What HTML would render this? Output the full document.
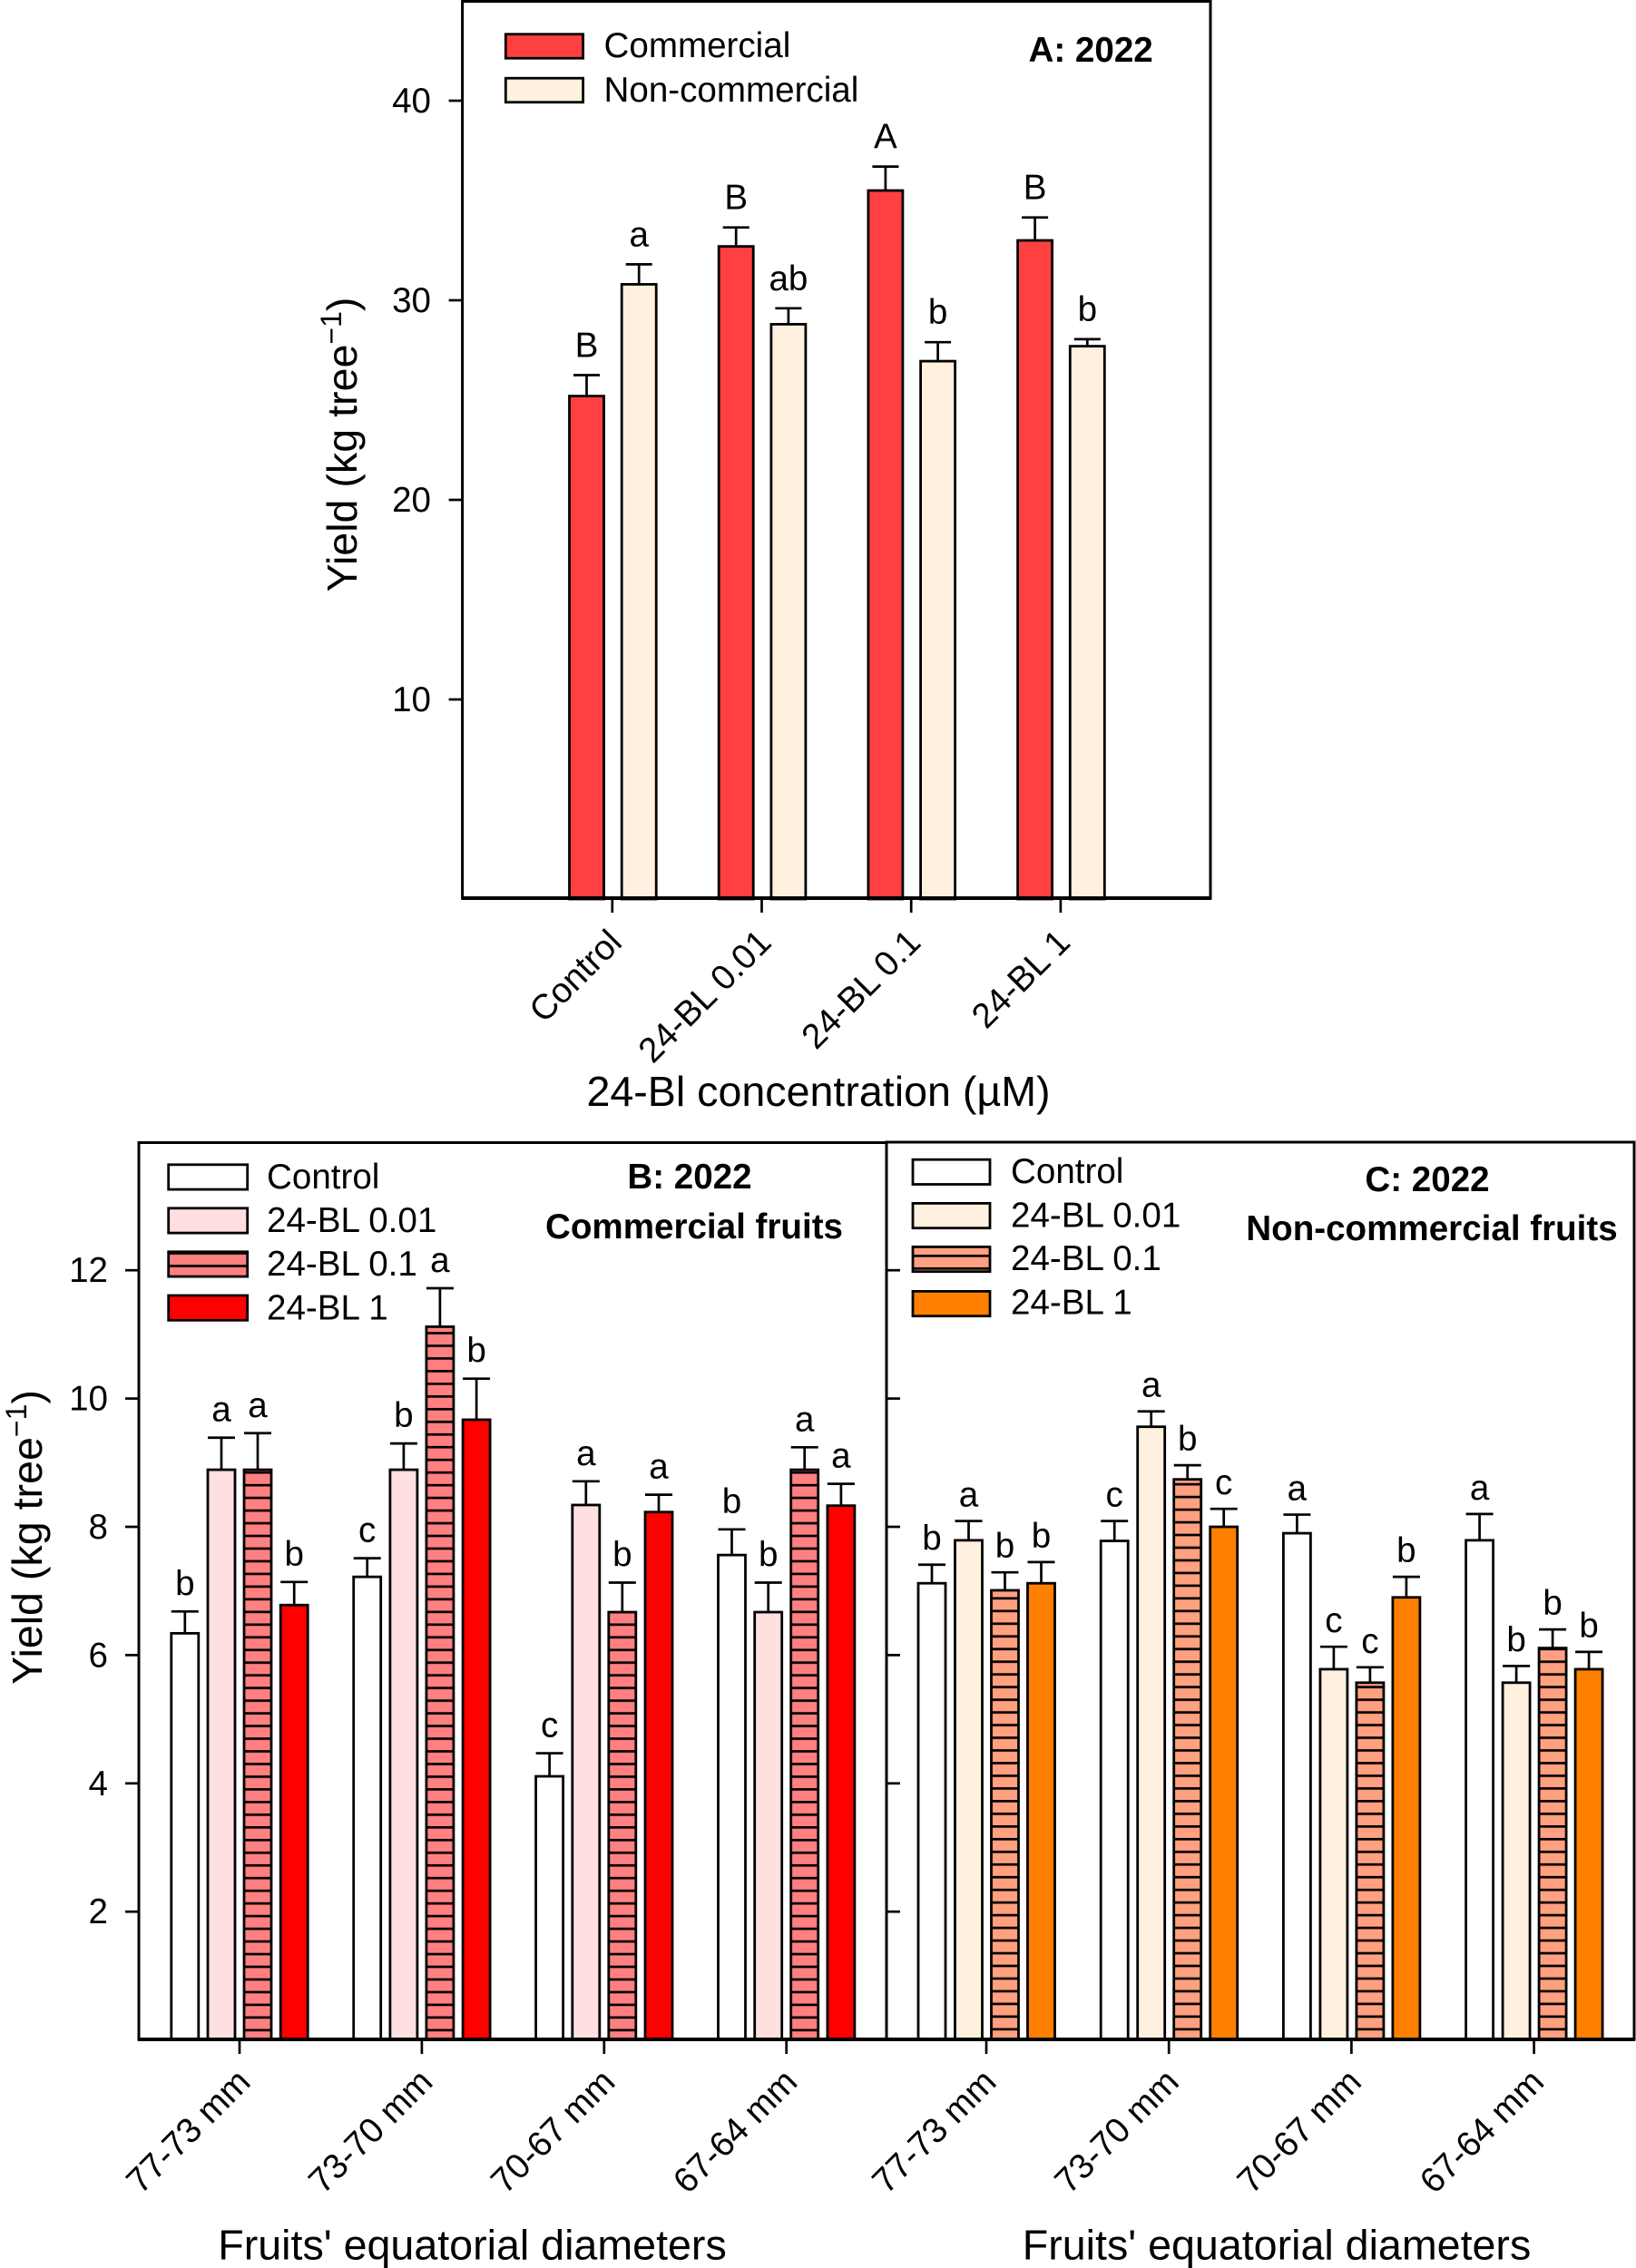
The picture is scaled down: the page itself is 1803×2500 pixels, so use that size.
<!DOCTYPE html>
<html lang="en">
<head>
<meta charset="utf-8">
<title>Yield by 24-BL concentration and fruit diameter</title>
<style>
  html, body { margin: 0; padding: 0; background: #fff; }
  svg { display: block; }
  text { font-family: "Liberation Sans", Arial, sans-serif; fill: #000; }
  .t38 { font-size: 38.6px; }
  .t46 { font-size: 46.6px; }
  .b38 { font-size: 38.6px; font-weight: bold; }
</style>
</head>
<body>
<svg id="figure" xmlns="http://www.w3.org/2000/svg" width="1803" height="2500" viewBox="0 0 1803 2500">
  <defs>
    <pattern id="hatch-b" patternUnits="userSpaceOnUse" x="0" y="2236.5" width="10" height="13.97">
      <rect width="10" height="13.97" fill="#ff8080"/><rect width="10" height="2.7" fill="#000"/>
    </pattern>
    <pattern id="hatch-c" patternUnits="userSpaceOnUse" x="0" y="2235.5" width="10" height="13.97">
      <rect width="10" height="13.97" fill="#ffa080"/><rect width="10" height="2.7" fill="#000"/>
    </pattern>
    <pattern id="hatch-b-legend" patternUnits="userSpaceOnUse" x="0" y="1380.2" width="10" height="13.97">
      <rect width="10" height="13.97" fill="#ff8080"/><rect width="10" height="2.7" fill="#000"/>
    </pattern>
    <pattern id="hatch-c-legend" patternUnits="userSpaceOnUse" x="0" y="1383" width="10" height="13.97">
      <rect width="10" height="13.97" fill="#ffa080"/><rect width="10" height="2.7" fill="#000"/>
    </pattern>
  </defs>

  <g id="panel-a"></g>
  <g id="panel-b"></g>
  <g id="panel-c"></g>

  <g>
    <rect x="557.3" y="37.7" width="85.3" height="26.5" fill="#ff4040" stroke="#000" stroke-width="2.8"/>
    <text class="t38" x="665.5" y="63">Commercial</text>
    <rect x="557.3" y="86.2" width="85.3" height="26.5" fill="#fff0e0" stroke="#000" stroke-width="2.8"/>
    <text class="t38" x="665.5" y="112">Non-commercial</text>
  </g>
  <text class="b38" x="1133.5" y="68">A: 2022</text>
  <text class="t46" text-anchor="middle" transform="translate(393 490) rotate(-90)">Yield (kg tree<tspan font-size="32" dy="-17">−1</tspan><tspan dy="17">)</tspan></text>
  <text class="t46" text-anchor="middle" x="902" y="1219">24-Bl concentration (µM)</text>

  <g>
    <rect x="185.7" y="1283.8" width="87" height="27.3" fill="#fff" stroke="#000" stroke-width="2.8"/>
    <text class="t38" x="294" y="1310">Control</text>
    <rect x="185.7" y="1331.8" width="87" height="27.3" fill="#ffe0e0" stroke="#000" stroke-width="2.8"/>
    <text class="t38" x="294" y="1358">24-BL 0.01</text>
    <rect x="185.7" y="1379.8" width="87" height="27.3" fill="url(#hatch-b-legend)" stroke="#000" stroke-width="2.8"/>
    <text class="t38" x="294" y="1406">24-BL 0.1</text>
    <rect x="185.7" y="1428" width="87" height="27.3" fill="#ff0000" stroke="#000" stroke-width="2.8"/>
    <text class="t38" x="294" y="1454.5">24-BL 1</text>
  </g>
  <text class="b38" text-anchor="middle" x="760" y="1310">B: 2022</text>
  <text class="b38" text-anchor="middle" x="765" y="1365">Commercial fruits</text>
  <text class="t46" text-anchor="middle" transform="translate(46 1694.5) rotate(-90)">Yield (kg tree<tspan font-size="32" dy="-17">−1</tspan><tspan dy="17">)</tspan></text>
  <text class="t46" text-anchor="middle" x="520.5" y="2490.5">Fruits' equatorial diameters</text>

  <g>
    <rect x="1006" y="1278.2" width="85" height="27.3" fill="#fff" stroke="#000" stroke-width="2.8"/>
    <text class="t38" x="1114" y="1304">Control</text>
    <rect x="1006" y="1326.4" width="85" height="27.3" fill="#fff0e0" stroke="#000" stroke-width="2.8"/>
    <text class="t38" x="1114" y="1352.5">24-BL 0.01</text>
    <rect x="1006" y="1374.4" width="85" height="27.3" fill="url(#hatch-c-legend)" stroke="#000" stroke-width="2.8"/>
    <text class="t38" x="1114" y="1400">24-BL 0.1</text>
    <rect x="1006" y="1423.4" width="85" height="27.3" fill="#ff8000" stroke="#000" stroke-width="2.8"/>
    <text class="t38" x="1114" y="1448.5">24-BL 1</text>
  </g>
  <text class="b38" text-anchor="middle" x="1573" y="1313">C: 2022</text>
  <text class="b38" text-anchor="middle" x="1578" y="1367">Non-commercial fruits</text>
  <text class="t46" text-anchor="middle" x="1407" y="2490.5">Fruits' equatorial diameters</text>

<script>
// ---- Panel A data ----
const aCategories = ['Control', '24-BL 0.01', '24-BL 0.1', '24-BL 1'];
const aTicks = [10, 20, 30, 40];
const aCommercial = [25.2, 32.7, 35.5, 33.0];
const aCommercialErr = [1.05, 0.95, 1.2, 1.15];
const aCommercialLetters = ['B', 'B', 'A', 'B'];
const aNonCommercial = [30.8, 28.8, 26.95, 27.7];
const aNonCommercialErr = [1.0, 0.8, 0.95, 0.35];
const aNonCommercialLetters = ['a', 'ab', 'b', 'b'];

// ---- Panel B data ----
const bCategories = ['77-73 mm', '73-70 mm', '70-67 mm', '67-64 mm'];
const bTicks = [2, 4, 6, 8, 10, 12];
const bControl = [6.34, 7.22, 4.11, 7.56];
const bControlErr = [0.34, 0.29, 0.36, 0.40];
const bControlLetters = ['b', 'c', 'c', 'b'];
const bLow = [8.89, 8.89, 8.34, 6.67];
const bLowErr = [0.50, 0.41, 0.37, 0.46];
const bLowLetters = ['a', 'b', 'a', 'b'];
const bMid = [8.89, 11.12, 6.67, 8.89];
const bMidErr = [0.57, 0.60, 0.46, 0.35];
const bMidLetters = ['a', 'a', 'b', 'a'];
const bHigh = [6.78, 9.67, 8.23, 8.33];
const bHighErr = [0.36, 0.64, 0.27, 0.34];
const bHighLetters = ['b', 'b', 'a', 'a'];

// ---- Panel C data ----
const cCategories = ['77-73 mm', '73-70 mm', '70-67 mm', '67-64 mm'];
const cTicks = [2, 4, 6, 8, 10, 12];
const cControl = [7.12, 7.78, 7.90, 7.79];
const cControlErr = [0.29, 0.31, 0.29, 0.41];
const cControlLetters = ['b', 'c', 'a', 'a'];
const cLow = [7.79, 9.56, 5.78, 5.57];
const cLowErr = [0.30, 0.24, 0.35, 0.26];
const cLowLetters = ['a', 'a', 'c', 'b'];
const cMid = [7.01, 8.74, 5.57, 6.11];
const cMidErr = [0.28, 0.22, 0.24, 0.29];
const cMidLetters = ['b', 'b', 'c', 'b'];
const cHigh = [7.12, 8.0, 6.90, 5.78];
const cHighErr = [0.33, 0.28, 0.32, 0.27];
const cHighLetters = ['b', 'c', 'b', 'b'];

const NS = 'http://www.w3.org/2000/svg';

function make(tag, attrs, parent, content) {
  const node = document.createElementNS(NS, tag);
  for (const key in attrs) node.setAttribute(key, attrs[key]);
  if (content !== undefined) node.textContent = content;
  parent.appendChild(node);
  return node;
}

function drawPanel(cfg) {
  const root = document.getElementById(cfg.id);
  const yScale = function (v) { return cfg.y0 - v * cfg.unit; };
  const xScale = function (i) { return cfg.x0 + i * cfg.pitch; };

  cfg.series.forEach(function (s, si) {
    s.values.forEach(function (value, i) {
      const cx = xScale(i) + cfg.offsets[si];
      const top = yScale(value);
      const errTop = yScale(value + s.err[i]);

      const stem = make('line', { x1: cx, x2: cx, y1: top, y2: errTop, stroke: '#000', 'stroke-width': 2.7 }, root);
      
      

      const cap = make('line', { x1: cx - cfg.cap / 2, x2: cx + cfg.cap / 2, y1: errTop, y2: errTop, stroke: '#000', 'stroke-width': 2.7 }, root);
      
      

      const bar = make('rect', { x: cx - cfg.barW / 2, y: top, width: cfg.barW, height: cfg.y0 - top, fill: s.fill, stroke: '#000', 'stroke-width': 2.8 }, root);
      
      

      const letter = make('text', { x: cx, y: errTop - cfg.letterGap, 'text-anchor': 'middle', 'class': 't38' }, root, s.letters[i]);
      
      
    });
  });

  const frame = make('rect', { x: cfg.left, y: cfg.top, width: cfg.right - cfg.left, height: cfg.bottom - cfg.top, fill: 'none', stroke: '#000', 'stroke-width': 3 }, root);
  
  

  const axisLine = make('line', { x1: cfg.left - 1, x2: cfg.right + 1, y1: cfg.bottom, y2: cfg.bottom, stroke: '#000', 'stroke-width': 4 }, root);
  
  

  cfg.ticks.forEach(function (t) {
    const y = yScale(t);
    const x1 = cfg.tickInside ? cfg.left : cfg.left - 15;
    const x2 = cfg.tickInside ? cfg.left + 15 : cfg.left;
    const tick = make('line', { x1: x1, x2: x2, y1: y, y2: y, stroke: '#000', 'stroke-width': 2.7 }, root);
    
    
    if (cfg.tickLabelX) {
      const label = make('text', { x: cfg.tickLabelX, y: y + 13, 'text-anchor': 'end', 'class': 't38' }, root, String(t));
      
      
    }
  });

  cfg.categories.forEach(function (name, i) {
    const x = xScale(i);
    const tick = make('line', { x1: x, x2: x, y1: cfg.bottom, y2: cfg.bottom + 16, stroke: '#000', 'stroke-width': 2.7 }, root);
    
    

    const label = make('text', { 'text-anchor': 'end', 'class': 't38', transform: 'translate(' + (x + cfg.labelDx) + ' ' + cfg.labelY + ') rotate(-45)' }, root, name);
    
    
  });
}

drawPanel({
  id: 'panel-a', left: 509.6, right: 1334, top: 1.5, bottom: 990, y0: 991, unit: 22,
  x0: 674.8, pitch: 164.7, offsets: [-28.3, 29.4], barW: 38, cap: 29, letterGap: 20,
  tickLabelX: 475, ticks: aTicks, categories: aCategories, labelDx: 12.5, labelY: 1041,
  series: [
    { key: 'commercial', fill: '#ff4040', values: aCommercial, err: aCommercialErr, letters: aCommercialLetters },
    { key: 'non-commercial', fill: '#fff0e0', values: aNonCommercial, err: aNonCommercialErr, letters: aNonCommercialLetters }
  ]
});

drawPanel({
  id: 'panel-b', left: 153, right: 977, top: 1259.5, bottom: 2248, y0: 2248.6, unit: 70.7,
  x0: 264, pitch: 200.9, offsets: [-60.2, -20, 20, 60.2], barW: 30, cap: 30, letterGap: 18,
  tickLabelX: 119, ticks: bTicks, categories: bCategories, labelDx: 14, labelY: 2297,
  series: [
    { key: 'control', fill: '#ffffff', values: bControl, err: bControlErr, letters: bControlLetters },
    { key: '24-bl-0-01', fill: '#ffe0e0', values: bLow, err: bLowErr, letters: bLowLetters },
    { key: '24-bl-0-1', fill: 'url(#hatch-b)', values: bMid, err: bMidErr, letters: bMidLetters },
    { key: '24-bl-1', fill: '#ff0000', values: bHigh, err: bHighErr, letters: bHighLetters }
  ]
});

drawPanel({
  id: 'panel-c', left: 977, right: 1801, top: 1259, bottom: 2248, y0: 2248.6, unit: 70.7,
  x0: 1087, pitch: 201.2, offsets: [-60, -19.5, 20.5, 60.5], barW: 30, cap: 30, letterGap: 16,
  tickInside: true, ticks: cTicks, categories: cCategories, labelDx: 13, labelY: 2297,
  series: [
    { key: 'control', fill: '#ffffff', values: cControl, err: cControlErr, letters: cControlLetters },
    { key: '24-bl-0-01', fill: '#fff0e0', values: cLow, err: cLowErr, letters: cLowLetters },
    { key: '24-bl-0-1', fill: 'url(#hatch-c)', values: cMid, err: cMidErr, letters: cMidLetters },
    { key: '24-bl-1', fill: '#ff8000', values: cHigh, err: cHighErr, letters: cHighLetters }
  ]
});
</script>
</svg>
</body>
</html>
